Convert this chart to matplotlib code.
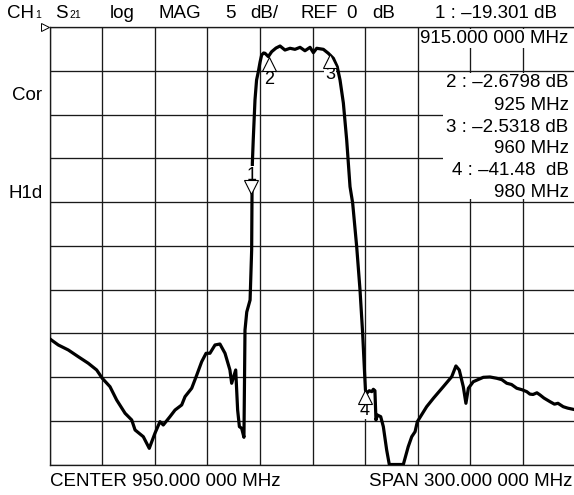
import matplotlib
matplotlib.use("Agg")
import matplotlib.pyplot as plt
import matplotlib.transforms as mtransforms
from matplotlib.patches import Rectangle
import numpy as np

plt.rcParams['font.family'] = ['Liberation Sans', 'DejaVu Sans']

# ---------------- data ----------------
freq_mhz = [800.3, 805.0, 810.7, 816.4, 822.1, 826.9, 830.1, 834.5, 838.3, 843.1,
            846.9, 848.8, 853.5, 856.9, 860.2, 863.0, 864.9, 868.7, 871.6, 875.4,
            877.3, 881.1, 884.0, 886.8, 889.3, 891.5, 894.4, 897.2, 900.1, 902.9,
            903.9, 906.2, 907.3, 908.3, 909.6, 910.9, 911.5, 912.5, 914.4, 915.3,
            915.5, 915.7, 916.2, 917.2, 918.1, 919.1, 920.1, 921.0, 922.1, 922.9,
            924.8, 926.7, 929.2, 931.5, 934.3, 937.2, 940.0, 942.9, 945.7, 948.6,
            950.5, 952.4, 956.2, 959.0, 961.9, 964.1, 965.7, 967.6, 969.5, 971.4,
            972.9, 975.2, 977.1, 978.6, 979.9, 980.2, 980.9, 982.4, 983.8, 984.7,
            985.6, 986.2, 987.0, 988.9, 990.4, 992.3, 993.8, 1001.8, 1004.6, 1006.6,
            1008.5, 1009.8, 1015.1, 1019.1, 1024.6, 1029.4, 1031.8, 1033.7, 1036.0, 1037.5,
            1038.9, 1041.7, 1047.4, 1051.2, 1055.1, 1058.0, 1060.8, 1063.5, 1066.5, 1069.5,
            1072.2, 1074.0, 1075.8, 1078.0, 1079.8, 1082.0, 1085.5, 1088.0, 1090.0, 1093.0,
            1095.5, 1098.7]
s21_db = [-35.65, -36.33, -36.90, -37.67, -38.42, -39.19, -40.14, -41.10, -42.62, -44.14,
          -44.91, -46.05, -46.82, -48.15, -46.40, -45.10, -45.48, -44.53, -43.77, -43.19,
          -42.24, -41.28, -39.76, -38.24, -37.28, -37.28, -36.33, -36.22, -37.28, -39.19,
          -40.71, -39.19, -43.77, -45.67, -45.86, -46.89, -34.62, -32.56, -31.19, -25.47,
          -19.29, -15.52, -12.89, -8.31, -6.03, -5.08, -3.97, -3.17, -2.94, -2.97,
          -3.35, -2.79, -2.37, -2.14, -2.60, -2.40, -2.52, -2.29, -2.68, -2.29,
          -2.90, -2.40, -2.52, -2.97, -3.55, -4.51, -6.03, -8.66, -12.89, -18.23,
          -20.09, -25.09, -30.04, -34.99, -40.33, -41.48, -41.86, -41.56, -41.67, -41.40,
          -41.56, -44.91, -44.34, -44.53, -45.67, -48.34, -50.0, -50.0, -47.96, -46.82,
          -46.25, -45.10, -43.39, -42.39, -41.10, -39.96, -38.73, -39.19, -41.10, -43.00,
          -41.28, -40.53, -40.03, -39.99, -40.14, -40.30, -40.71, -40.85, -41.28, -41.45,
          -41.67, -41.95, -41.99, -41.80, -42.05, -42.40, -42.82, -43.10, -43.00, -43.39,
          -43.55, -43.69]

marker_ids = ['1', '2', '3', '4']
marker_freq = [915.0, 925.0, 960.0, 980.0]
marker_db = [-19.301, -2.6798, -2.5318, -41.48]
marker_readout = ['1 : \u201319.301 dB', '2 : \u20132.6798 dB', '3 : \u20132.5318 dB', '4 : \u201341.48  dB']
marker_freq_text = ['915.000 000 MHz', '925 MHz', '960 MHz', '980 MHz']

f_start, f_stop = 800, 1100
ref_db, db_per_div, n_div = 0, 5, 10

# ---------------- figure ----------------
W, H = 574, 495
fig = plt.figure(figsize=(W / 100, H / 100), dpi=100)
fig.patch.set_facecolor('white')
L, T, R, B = 49.5, 27.3, 575.5, 464.5
ax = fig.add_axes([L / W, 1 - B / H, (R - L) / W, (B - T) / H])
ax.set_xlim(f_start, f_stop)
ax.set_ylim(ref_db - db_per_div * n_div, ref_db)
ax.set_xticks(np.linspace(f_start, f_stop, n_div + 1))
ax.set_yticks(np.linspace(ref_db - db_per_div * n_div, ref_db, n_div + 1))
ax.tick_params(length=0, labelbottom=False, labelleft=False)
ax.grid(True, color='#1a1a1a', lw=0.95)
for s in ax.spines.values():
    s.set_color('#1a1a1a')
    s.set_linewidth(0.95)

def fx(x):
    return x / W

def fy(y):
    return 1 - y / H

# white boxes behind marker readouts
for (x0, y0, x1, y1) in [(420, 29, 578, 48), (443, 73, 578, 199)]:
    ax.add_patch(Rectangle((fx(x0), fy(y1)), fx(x1) - fx(x0), fy(y0) - fy(y1),
                           transform=fig.transFigure, facecolor='white',
                           edgecolor='none', zorder=3, clip_on=False))

ax.plot(freq_mhz, s21_db, color='black', lw=2.3, zorder=4, solid_joinstyle='round')

# markers
tri_off = [6.5, -9.4, -8.6, -5.0]     # points
lab_off = [15.1, -20.6, -17.7, -14.4]
tri_shape = ['v', '^', '^', '^']
for i in range(4):
    tr = mtransforms.offset_copy(ax.transData, fig=fig, x=0, y=tri_off[i], units='points')
    ax.plot([marker_freq[i]], [marker_db[i]], marker=tri_shape[i], ms=9.8,
            mfc='white', mec='black', mew=0.8, transform=tr, zorder=6, clip_on=False)
    ax.annotate(marker_ids[i], xy=(marker_freq[i], marker_db[i]), xytext=(0, lab_off[i]),
                textcoords='offset points', ha='center', va='center', fontsize=13,
                bbox=dict(boxstyle='square,pad=0.05', fc='white', ec='none'), zorder=5)

# reference position indicator
ax.plot([-0.0085], [1.0], marker='>', ms=5.5, mfc='white', mec='black', mew=0.7,
        transform=ax.transAxes, clip_on=False, zorder=6)

fs = 13.5
def t(x, y, s, ha='left', size=fs, **kw):
    fig.text(fx(x), fy(y), s, ha=ha, va='baseline', fontsize=size, **kw)

# header
t(7, 18.3, 'CH')
t(35.5, 18.3, '1', size=7.5)
t(55.5, 18.3, 'S')
t(69.5, 18.3, '21', size=7.5)
t(110, 18.3, 'log')
t(158, 18.3, 'MAG')
t(225, 18.3, '5')
t(250, 18.3, 'dB/')
t(300, 18.3, 'REF')
t(346, 18.3, '0')
t(372, 18.3, 'dB')
t(557, 18.3, marker_readout[0], ha='right')

# marker readouts
t(568.5, 43.3, marker_freq_text[0], ha='right', zorder=5)
ys = [87.3, 110, 131.7, 153.3, 175, 197.3]
for k in range(3):
    t(568.5, ys[2 * k], marker_readout[k + 1], ha='right', zorder=5)
    t(568.5, ys[2 * k + 1], marker_freq_text[k + 1], ha='right', zorder=5)

# side labels
t(12, 100, 'Cor')
t(8, 198, 'H1d')

# footer
t(50, 486, 'CENTER 950.000 000 MHz')
t(572, 486, 'SPAN 300.000 000 MHz', ha='right')

fig.savefig('out.png', dpi=100, facecolor='white')
